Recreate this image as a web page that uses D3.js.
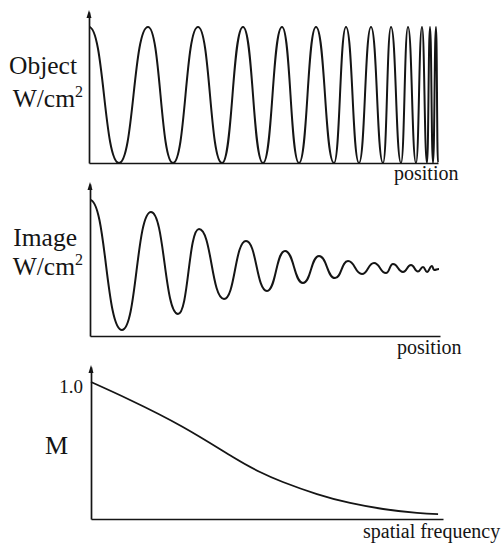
<!DOCTYPE html>
<html>
<head>
<meta charset="utf-8">
<script src="https://cdn.jsdelivr.net/npm/d3@7"></script>
<style>
  html, body { margin: 0; padding: 0; background: #fff; }
  svg { display: block; }
</style>
</head>
<body>
<svg id="chart" width="502" height="544"></svg>
<script>
// ---------- data ----------
// Object: positions of successive maxima/minima (chirp) and their intensity
const objectPos = [0, 30, 59, 84, 109, 133, 154, 174, 193, 210, 227, 245, 257, 270, 282, 294, 302, 312, 319, 327, 333, 338, 341, 344, 347, 349];
const objectVal = [1, 0, 1, 0, 1, 0, 1, 0, 1, 0, 1, 0, 1, 0, 1, 0, 1, 0, 1, 0, 1, 0, 1, 0, 1, 0];

// Image: positions of successive maxima/minima and their intensity
const imagePos = [0, 32, 61, 88, 109, 134, 156, 177, 195, 213, 229, 245, 258, 272, 284, 296, 303, 313, 321, 328, 333, 337, 342, 344, 349];
const imageVal = [1.0, 0.044, 0.912, 0.162, 0.787, 0.272, 0.699, 0.331, 0.625, 0.390, 0.588, 0.426, 0.551, 0.456, 0.537, 0.463, 0.529, 0.471, 0.522, 0.475, 0.507, 0.471, 0.515, 0.485, 0.493];

// Modulation transfer function
const mtfFreq = [0, 1.11, 2.61, 4.03, 4.80, 5.45, 6.42, 7.36, 8.30, 9.26, 9.86];
const mtfVal  = [1.0, 0.869, 0.672, 0.453, 0.343, 0.270, 0.182, 0.117, 0.073, 0.044, 0.036];
const mtfTicks = [1.0];

const labels = {
  objectTitle: "Object",
  imageTitle: "Image",
  unit: "W/cm",
  unitSup: "2",
  position: "position",
  mtfTitle: "M",
  freq: "spatial frequency"
};

// ---------- drawing ----------
const FONT = "'Liberation Serif', 'Tinos', 'Times New Roman', 'DejaVu Serif', serif";
const svg = d3.select("#chart");
const ink = "#151515";

function arrow(g, x, yTop) {
  g.append("path")
    .attr("d", `M${x},${yTop} L${x - 2.5},${yTop + 8} L${x + 2.5},${yTop + 8} Z`)
    .attr("fill", ink);
}

function panel(cfg) {
  const x = d3.scaleLinear().domain(cfg.xDomain).range(cfg.xRange);
  const y = d3.scaleLinear().domain(cfg.yDomain).range(cfg.yRange);
  const g = svg.append("g");

  const xAxis = d3.axisBottom(x).tickValues([]).tickSizeOuter(0);
  g.append("g").attr("transform", `translate(0,${cfg.yRange[0]})`).call(xAxis)
    .call(s => s.select(".domain").attr("stroke", ink).attr("stroke-width", 1.7));

  const yAxis = d3.axisLeft(y).tickValues(cfg.yTicks || []).tickSize(0).tickPadding(8)
    .tickFormat(d3.format(".1f")).tickSizeOuter(0);
  const ya = g.append("g").attr("transform", `translate(${cfg.xRange[0]},0)`).call(yAxis);
  ya.attr("font-family", null);
  ya.select(".domain").attr("stroke", ink).attr("stroke-width", 1.7);
  ya.selectAll(".tick text").attr("font-size", 19).attr("dy", "0.55em")
    .attr("font-family", FONT).style("font-family", FONT).attr("fill", ink);
  arrow(g, cfg.xRange[0], cfg.yRange[1] - 2);

  const line = d3.line().x(d => x(d[0])).y(d => y(d[1])).curve(cfg.curve);
  g.append("path")
    .datum(d3.zip(cfg.xs, cfg.ys))
    .attr("d", line)
    .attr("fill", "none")
    .attr("stroke", ink)
    .attr("stroke-width", cfg.lw || 2)
    .attr("stroke-linejoin", "round");
  return g;
}

// Panel 1: Object
panel({
  xDomain: [0, 349], xRange: [89, 438],
  yDomain: [0, 151 / 136], yRange: [163, 12],
  xs: objectPos, ys: objectVal, lw: 2, curve: d3.curveBumpX
});
// Panel 2: Image
panel({
  xDomain: [0, 350], xRange: [90, 440],
  yDomain: [0, 152 / 136], yRange: [336, 184],
  xs: imagePos, ys: imageVal, lw: 2, curve: d3.curveBumpX
});
// Panel 3: MTF
panel({
  xDomain: [0, 10], xRange: [91, 443],
  yDomain: [0, 152 / 137], yRange: [519, 367],
  xs: mtfFreq, ys: mtfVal, yTicks: mtfTicks, lw: 1.8, curve: d3.curveNatural
});

// Labels
function txt(x, y, size, s, anchor) {
  return svg.append("text").attr("x", x).attr("y", y)
    .attr("text-anchor", anchor || "start")
    .attr("font-size", size)
    .attr("font-family", FONT).style("font-family", FONT)
    .attr("fill", ink).text(s);
}
function twoLine(title, yTitle, yUnit, xEnd) {
  txt(xEnd, yTitle, 25.5, title, "end");
  const t = txt(xEnd + 6, yUnit, 25.5, "", "end");
  t.append("tspan").text(labels.unit);
  t.append("tspan").attr("font-size", 16).attr("dy", -10).text(labels.unitSup);
}
twoLine(labels.objectTitle, 74, 107, 77);
twoLine(labels.imageTitle, 246, 275, 77);

txt(394, 180, 20, labels.position);
txt(397, 354, 20, labels.position);
txt(363, 538, 20, labels.freq);
txt(45, 454, 26, labels.mtfTitle);
</script>
</body>
</html>
